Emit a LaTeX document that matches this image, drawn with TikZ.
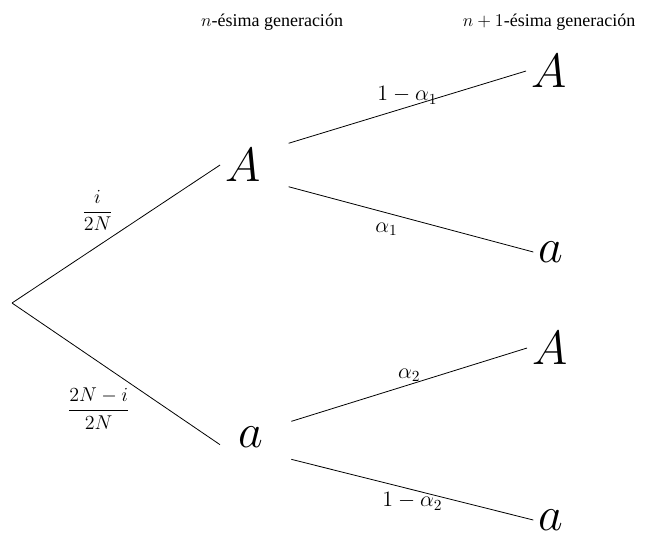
\documentclass[tikz,border=0pt]{standalone}
\usepackage{fix-cm}
\usepackage{amsmath}
\usepackage{fontspec}
\setmainfont{Liberation Serif}
\usetikzlibrary{positioning}

\begin{document}
\begin{tikzpicture}[
  x=0.75pt, y=-0.75pt,
  allele/.style={
    inner sep=0pt, outer sep=4pt,
    font=\fontsize{36}{40}\selectfont
  },
  prob/.style={font=\fontsize{16.5}{19}\selectfont, inner sep=2pt},
  frac/.style={font=\fontsize{15}{18}\selectfont, inner sep=2pt},
  gen/.style={font=\fontsize{13.5}{16}\selectfont},
  branch/.style={line width=0.6pt}
]
  \useasboundingbox (0,0) rectangle (653,540);

  % cabecera
  \node[gen] (hn)  at (272,22) {$n$-ésima generación};
  \node[gen] (hn1) at (549,22) {$n+1$-ésima generación};

  % alelos
  \coordinate (root) at (12,303);
  \node[allele] (A1) at (243,165) {$A$};
  \node[allele] (a1) at (251,437) {$a$};
  \node[allele] (A2) at (549,71)  {$A$};
  \node[allele] (a2) at (551,252) {$a$};
  \node[allele] (A3) at (550,348) {$A$};
  \node[allele] (a3) at (551,520) {$a$};

  % primera generacion
  \draw[branch] (root) -- node[frac, midway, above left] {$\dfrac{i}{2N}$} (A1.west);
  \draw[branch] (root) -- node[frac, pos=0.58, below left] {$\dfrac{2N-i}{2N}$}
    ([shift={(-10pt,6pt)}]a1.south west);

  % segunda generacion
  \draw[branch] ([xshift=17pt]A1.north east) -- node[prob, midway, above] {$1-\alpha_1$} (A2.west);
  \draw[branch] ([xshift=17pt]A1.south east) -- node[prob, pos=0.4, below=5pt] {$\alpha_1$} (a2.west);
  \draw[branch] ([xshift=17pt]a1.north east) -- node[prob, midway, above] {$\alpha_2$} (A3.west);
  \draw[branch] ([shift={(17pt,-5pt)}]a1.south east) -- node[prob, midway, below] {$1-\alpha_2$} (a3.west);
\end{tikzpicture}
\end{document}
